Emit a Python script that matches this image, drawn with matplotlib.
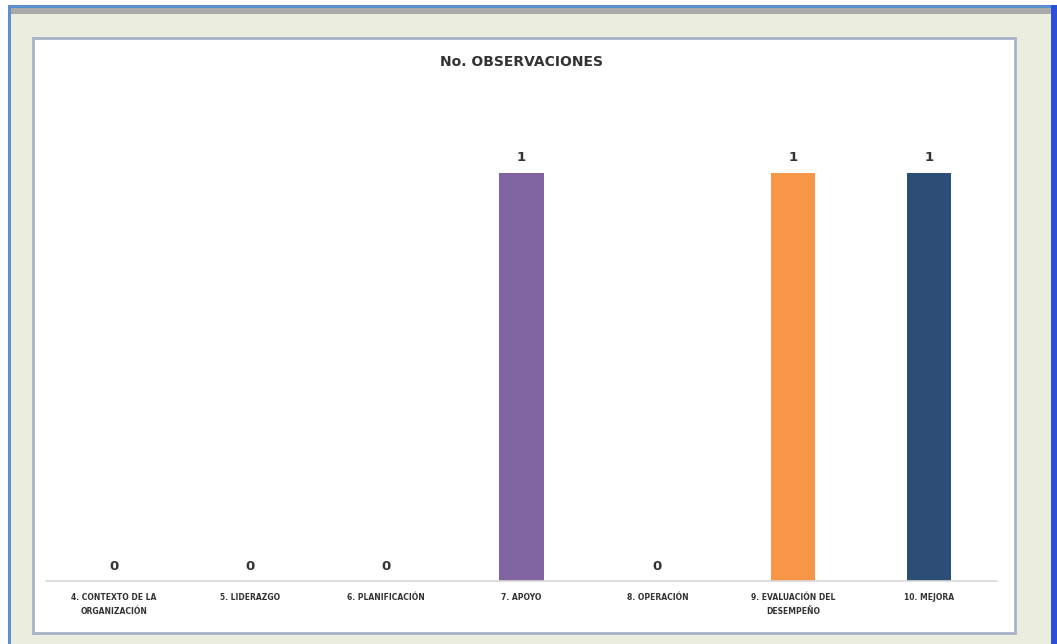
import matplotlib
matplotlib.use("Agg")
import matplotlib.pyplot as plt
from matplotlib.patches import Rectangle

categories = ["4. CONTEXTO DE LA\nORGANIZACIÓN", "5. LIDERAZGO", "6. PLANIFICACIÓN",
              "7. APOYO", "8. OPERACIÓN", "9. EVALUACIÓN DEL\nDESEMPEÑO", "10. MEJORA"]
values = [0, 0, 0, 1, 0, 1, 1]
colors = ["#4F81BD", "#C0504D", "#9BBB59", "#8064A2", "#4BACC6", "#F79646", "#2C4D75"]
title = "No. OBSERVACIONES"

W, H = 1057, 644
fig = plt.figure(figsize=(W / 100, H / 100), dpi=100)
fig.patch.set_facecolor("#EBEEDE")

def px(x0, y0, w, h, **kw):
    fig.add_artist(Rectangle((x0 / W, 1 - (y0 + h) / H), w / W, h / H,
                             transform=fig.transFigure, zorder=-10, **kw))

# outer frame bits
px(0, 0, W, 5, facecolor="white", edgecolor="none")
px(0, 0, 8, H, facecolor="white", edgecolor="none")
px(8, 5, 1045, 3, facecolor="#5B8FD0", edgecolor="none")
px(8, 5, 3, H - 5, facecolor="#5B8FD0", edgecolor="none")
px(11, 8, 1040, 6, facecolor="#A9A9A9", edgecolor="none")
px(1051, 5, 6, H - 5, facecolor="#2A4FD8", edgecolor="none")
# inner white panel with shadowed border
px(33, 38, 982, 595, facecolor="white", edgecolor="#A7B4C6", linewidth=2.0)

ax = fig.add_axes([46 / W, 1 - 581 / H, 951 / W, (581 - 95) / H])
ax.set_zorder(5)
ax.set_facecolor("none")
x = list(range(len(categories)))
ax.bar(x, values, width=0.325, color=colors)
ax.set_xlim(-0.5, len(categories) - 0.5)
ax.set_ylim(0, 1.19)
for xi, v in zip(x, values):
    ax.text(xi, v + 0.02, f"{v}", ha="center", va="bottom", fontsize=9.5,
            fontweight="bold", color="#333333")
ax.set_xticks(x)
ax.set_xticklabels(categories, fontsize=5.5, fontweight="bold", color="#333333",
                   linespacing=1.6)
ax.tick_params(axis="x", length=0, pad=9)
ax.set_yticks([])
for s in ["top", "right", "left"]:
    ax.spines[s].set_visible(False)
ax.spines["bottom"].set_color("#D9D9D9")
ax.spines["bottom"].set_linewidth(1.2)

fig.text(522 / W, 1 - 62 / H, title, ha="center", va="center", fontsize=10,
         fontweight="bold", color="#333333", zorder=6)

fig.savefig("out.png", dpi=100)
